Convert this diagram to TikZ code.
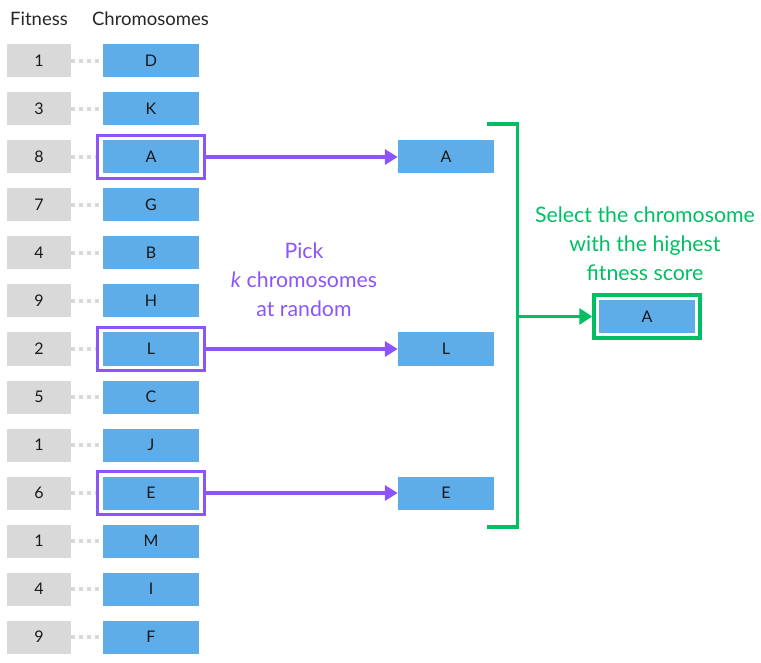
\documentclass[tikz,border=0pt]{standalone}
\usepackage{fontspec}
\setmainfont{Lato}
\usetikzlibrary{arrows.meta}
\definecolor{boxgray}{HTML}{D9D9D9}
\definecolor{chromblue}{HTML}{5EACE8}
\definecolor{pickpurple}{HTML}{8C55F8}
\definecolor{selgreen}{HTML}{00BF63}
\begin{document}
\begin{tikzpicture}[x=1pt,y=-1pt,
	head/.style={anchor=base,text=black!85,font=\fontsize{18.5}{22}\selectfont},
	fitbox/.style={fill=boxgray,minimum width=64pt,minimum height=33pt,inner sep=0pt,text=black!90,font=\fontsize{16}{19}\selectfont},
	chrom/.style={fill=chromblue,minimum width=96pt,minimum height=33pt,inner sep=0pt,text=black!90,font=\fontsize{16}{19}\selectfont},
	pickframe/.style={draw=pickpurple,line width=3.5pt,minimum width=107pt,minimum height=43pt,inner sep=0pt},
	bestframe/.style={draw=selgreen,line width=3.5pt,minimum width=106pt,minimum height=43pt,inner sep=0pt},
	dots/.style={boxgray,line width=4pt,dash pattern=on 4pt off 4pt},
	pickarrow/.style={pickpurple,line width=3.5pt,-{Triangle[length=13pt,width=15pt]}},
	bestarrow/.style={selgreen,line width=3.5pt,-{Triangle[length=13pt,width=16pt]}},
	note/.style={align=center,font=\fontsize{21.3}{29}\selectfont}]
	\useasboundingbox (0,0) rectangle (761,663);
	\node[head] (hfit) at (39,26) {Fitness};
	\node[head] (hchr) at (150.5,26) {Chromosomes};
	% population
	\node[fitbox] (fD) at (39,61) {1};  \node[chrom] (D) at (151,61) {D};
	\node[fitbox] (fK) at (39,109) {3}; \node[chrom] (K) at (151,109) {K};
	\node[fitbox] (fA) at (39,157) {8}; \node[chrom] (A) at (151,157) {A};
	\node[fitbox] (fG) at (39,205) {7}; \node[chrom] (G) at (151,205) {G};
	\node[fitbox] (fB) at (39,253) {4}; \node[chrom] (B) at (151,253) {B};
	\node[fitbox] (fH) at (39,301) {9}; \node[chrom] (H) at (151,301) {H};
	\node[fitbox] (fL) at (39,349) {2}; \node[chrom] (L) at (151,349) {L};
	\node[fitbox] (fC) at (39,397) {5}; \node[chrom] (C) at (151,397) {C};
	\node[fitbox] (fJ) at (39,445) {1}; \node[chrom] (J) at (151,445) {J};
	\node[fitbox] (fE) at (39,493) {6}; \node[chrom] (E) at (151,493) {E};
	\node[fitbox] (fM) at (39,541) {1}; \node[chrom] (M) at (151,541) {M};
	\node[fitbox] (fI) at (39,589) {4}; \node[chrom] (I) at (151,589) {I};
	\node[fitbox] (fF) at (39,637) {9}; \node[chrom] (F) at (151,637) {F};
	\node[pickframe] (sA) at (A) {};
	\node[pickframe] (sL) at (L) {};
	\node[pickframe] (sE) at (E) {};
	\draw[dots] (fD) -- (D);
	\draw[dots] (fK) -- (K);
	\draw[dots] (fA) -- (sA);
	\draw[dots] (fG) -- (G);
	\draw[dots] (fB) -- (B);
	\draw[dots] (fH) -- (H);
	\draw[dots] (fL) -- (sL);
	\draw[dots] (fC) -- (C);
	\draw[dots] (fJ) -- (J);
	\draw[dots] (fE) -- (sE);
	\draw[dots] (fM) -- (M);
	\draw[dots] (fI) -- (I);
	\draw[dots] (fF) -- (F);
	% tournament
	\node[chrom] (pA) at (446,157) {A};
	\node[chrom] (pL) at (446,349) {L};
	\node[chrom] (pE) at (446,493) {E};
	\draw[pickarrow] (sA) -- (pA);
	\draw[pickarrow] (sL) -- (pL);
	\draw[pickarrow] (sE) -- (pE);
	\node[note,text=pickpurple] (picktxt) at (304,280) {Pick\\\textit{k} chromosomes\\at random};
	% winner
	\coordinate (btop) at (487,124);
	\coordinate (bbot) at (487,527);
	\coordinate (bmid) at (517.5,316.5);
	\draw[selgreen,line width=3.5pt] (btop) -| (bmid) |- (bbot);
	\node[chrom] (best) at (647,316.5) {A};
	\node[bestframe] (sbest) at (best) {};
	\draw[bestarrow] (bmid) -- (sbest);
	\node[note,text=selgreen] (besttxt) at (645,244) {Select the chromosome\\with the highest\\fitness score};
\end{tikzpicture}
\end{document}
